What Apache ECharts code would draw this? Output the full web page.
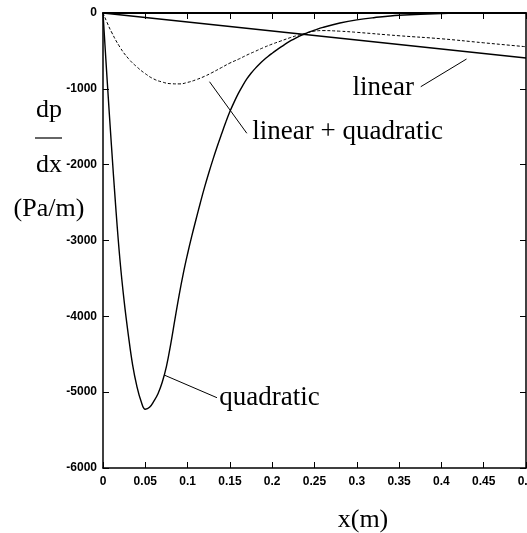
<!DOCTYPE html>
<html>
<head>
<meta charset="utf-8">
<script src="https://cdn.jsdelivr.net/npm/echarts@6/dist/echarts.min.js"></script>
<style>
  html, body { margin: 0; padding: 0; background: #fff; }
  #chart { width: 527px; height: 533px; }
</style>
</head>
<body>
<div id="chart"></div>
<script>
// x positions (m) and dp/dx values (Pa/m)
var quadX = [0, 0.005, 0.01, 0.015, 0.02, 0.025, 0.03, 0.035, 0.04, 0.045, 0.05, 0.055, 0.06, 0.065, 0.07, 0.075, 0.08, 0.085, 0.09, 0.095,
    0.1, 0.105, 0.11, 0.115, 0.12, 0.125, 0.13, 0.135, 0.14, 0.145, 0.15, 0.155, 0.16, 0.165, 0.17, 0.175, 0.18, 0.185, 0.19, 0.195,
    0.2, 0.205, 0.21, 0.215, 0.22, 0.225, 0.23, 0.235, 0.24, 0.245, 0.25, 0.26, 0.28, 0.3, 0.32, 0.35, 0.4, 0.45, 0.5]
var quadY = [0, -900, -1750, -2550, -3250, -3800, -4250, -4640, -4920, -5120, -5225, -5200, -5120, -5020, -4870, -4660, -4370, -4040, -3720, -3430,
    -3175, -2940, -2720, -2505, -2300, -2110, -1930, -1760, -1600, -1445, -1300, -1175, -1060, -960, -870, -795, -730, -672, -620, -573,
    -530, -489, -450, -413, -378, -347, -318, -292, -268, -246, -226, -190, -132, -90, -62, -30, -6, -1, 0]

var linQuadX = [0, 0.005, 0.01, 0.02, 0.03, 0.04, 0.05, 0.06, 0.07, 0.08, 0.09, 0.1, 0.11, 0.12, 0.13, 0.14, 0.15, 0.16, 0.17, 0.18, 0.19, 0.2, 0.21, 0.22, 0.23, 0.24, 0.25, 0.26, 0.28, 0.3, 0.35, 0.4, 0.45, 0.5]
var linQuadY = [0, -130, -250, -450, -600, -710, -800, -870, -910, -932, -935, -915, -880, -835, -780, -720, -660, -610, -555, -505, -455, -410, -370, -330, -295, -265, -240, -232, -240, -255, -300, -340, -393, -445]

var linearX = [0, 0.5]
var linearY = [0, -594]

// annotation labels and their leader lines, in data units
var labelNames = ['linear', 'linear + quadratic', 'quadratic']
var labelAt = [[0.295, -989], [0.1765, -1569], [0.1374, -5077]]
var leaderFrom = [[0.3756, -972], [0.1259, -906], [0.0723, -4774]]
var leaderTo = [[0.4297, -607], [0.170, -1586], [0.1347, -5073]]

function pairs(xs, ys) {
    return xs.map(function (x, i) { return [x, ys[i]] })
}

var tickFont = {
    fontFamily: 'Liberation Sans Narrow, Liberation Sans, sans-serif',
    fontWeight: 'bold',
    fontSize: 12,
    color: '#000'
}
var serif = 'Liberation Serif, Times New Roman, serif'

var chart = echarts.init(document.getElementById('chart'))

function box(width) {
    return {
        axisLine: { show: true, onZero: false, lineStyle: { color: '#000', width: width } },
        axisTick: { show: true, inside: true, length: 6, lineStyle: { color: '#000', width: 1 } },
        splitLine: { show: false }
    }
}

chart.setOption({
    animation: false,
    backgroundColor: '#fff',
    grid: { left: 103, top: 13, right: 1, bottom: 65, containLabel: false, outerBoundsMode: 'none' },
    xAxis: [
        Object.assign({
            type: 'value', position: 'bottom', min: 0, max: 0.5, interval: 0.05,
            axisLabel: Object.assign({ margin: 8, formatter: function (v) { return String(+v.toFixed(2)) } }, tickFont)
        }, box(1.5)),
        Object.assign({
            type: 'value', position: 'top', min: 0, max: 0.5, interval: 0.05,
            axisLabel: { show: false }
        }, box(2))
    ],
    yAxis: [
        Object.assign({
            type: 'value', position: 'left', min: -6000, max: 0, interval: 1000,
            axisLabel: Object.assign({ margin: 6, formatter: function (v) { return String(v) } }, tickFont)
        }, box(1.5)),
        Object.assign({
            type: 'value', position: 'right', min: -6000, max: 0, interval: 1000,
            axisLabel: { show: false }
        }, box(1.5))
    ],
    series: [
        {
            name: 'quadratic', type: 'line', showSymbol: false, smooth: 0.4,
            data: pairs(quadX, quadY),
            lineStyle: { color: '#000', width: 1.4 }
        },
        {
            name: 'linear + quadratic', type: 'line', showSymbol: false, smooth: 0.5,
            data: pairs(linQuadX, linQuadY),
            lineStyle: { color: '#000', width: 1, type: [3, 2] }
        },
        {
            name: 'linear', type: 'line', showSymbol: false,
            data: pairs(linearX, linearY),
            lineStyle: { color: '#000', width: 1.4 }
        }
    ]
})

var px = function (p) { return chart.convertToPixel({ gridIndex: 0 }, p) }
var elements = []
labelNames.forEach(function (name, i) {
    var a = px(leaderFrom[i]); var b = px(leaderTo[i]); var t = px(labelAt[i])
    elements.push({
        type: 'line',
        shape: { x1: a[0], y1: a[1], x2: b[0], y2: b[1] },
        style: { stroke: '#000', lineWidth: 1 }
    })
    elements.push({
        type: 'text', x: t[0], y: t[1],
        style: { text: name, font: '27px ' + serif, fill: '#000', textVerticalAlign: 'middle' }
    })
})
// axis titles
elements.push(
    { type: 'text', x: 49, y: 110, style: { text: 'dp', font: '26px ' + serif, fill: '#000', textAlign: 'center', textVerticalAlign: 'middle' } },
    { type: 'line', shape: { x1: 35, y1: 138, x2: 62, y2: 138 }, style: { stroke: '#000', lineWidth: 1.2 } },
    { type: 'text', x: 49, y: 165, style: { text: 'dx', font: '26px ' + serif, fill: '#000', textAlign: 'center', textVerticalAlign: 'middle' } },
    { type: 'text', x: 49, y: 209, style: { text: '(Pa/m)', font: '26px ' + serif, fill: '#000', textAlign: 'center', textVerticalAlign: 'middle' } },
    { type: 'text', x: 363, y: 520, style: { text: 'x(m)', font: '26px ' + serif, fill: '#000', textAlign: 'center', textVerticalAlign: 'middle' } }
)
chart.setOption({ graphic: { elements: elements } })
</script>
</body>
</html>
